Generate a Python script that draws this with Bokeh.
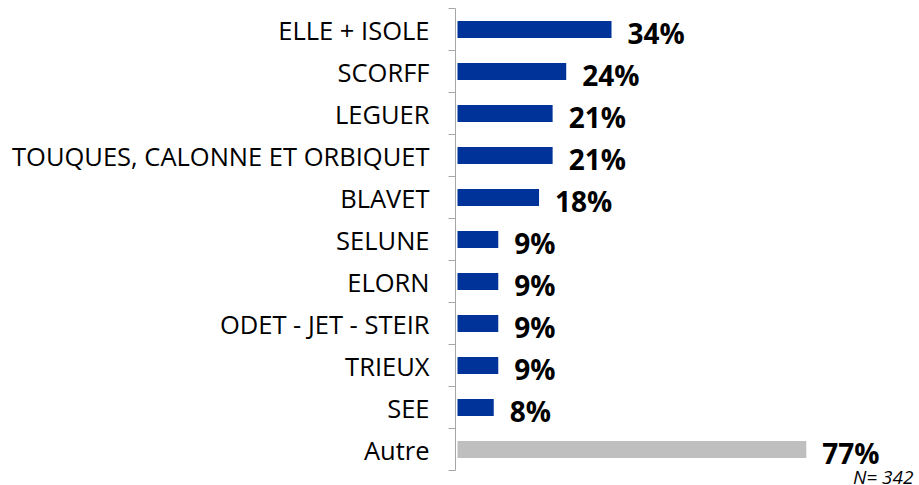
from bokeh.plotting import figure
from bokeh.models import Range1d, FixedTicker, ColumnDataSource
from bokeh.core.properties import value
from bokeh.embed import file_html
from bokeh.resources import INLINE

categories = ["ELLE + ISOLE", "SCORFF", "LEGUER", "TOUQUES, CALONNE ET ORBIQUET",
              "BLAVET", "SELUNE", "ELORN", "ODET - JET - STEIR", "TRIEUX", "SEE", "Autre"]
values = [34, 24, 21, 21, 18, 9, 9, 9, 9, 8, 77]
value_labels = ["34%", "24%", "21%", "21%", "18%", "9%", "9%", "9%", "9%", "8%", "77%"]
note = "N= 342"

BLUE = "#003399"
GREY = "#BFBFBF"
AXIS = "#A6A6A6"

W, H = 919, 485
LEFT = 455          # axis position in px
ROW = 42.0          # px per category row
TOP_PAD = 8.0       # px above first row boundary
PX_PER_PCT = 4.53
X0_PAD = 2.0        # px between axis and zero

n = len(categories)
ypos = [n - 1 - i for i in range(n)]
colors = [BLUE] * (n - 1) + [GREY]

y_top = (n - 0.5) + TOP_PAD / ROW
y_bot = y_top - H / ROW
x_start = -X0_PAD / PX_PER_PCT
x_end = x_start + (W - LEFT) / PX_PER_PCT

src = ColumnDataSource(dict(y=ypos, x=values, label=value_labels, color=colors))

p = figure(width=W, height=H,
           x_range=Range1d(x_start, x_end), y_range=Range1d(y_bot, y_top),
           output_backend="svg", toolbar_location=None, x_axis_location=None,
           min_border_left=LEFT, min_border_right=0, min_border_top=0, min_border_bottom=0)

p.hbar(y="y", left=0, right="x", height=0.4, fill_color="color", line_color=None, source=src)

p.text(x="x", y="y", text="label", source=src, x_offset=16, y_offset=3,
       text_font=value("Open Sans"), text_font_style="bold", text_font_size="28px",
       text_baseline="middle", text_align="left", text_color="black")

p.text(x=[x_end], y=[y_top - 476.0 / ROW], text=[note], x_offset=-6,
       text_font=value("Open Sans"), text_font_style="italic", text_font_size="19px",
       text_baseline="alphabetic", text_align="right", text_color="black")

ax = p.yaxis[0]
ax.ticker = FixedTicker(ticks=ypos, minor_ticks=[b - 0.5 for b in range(n + 1)])
ax.major_label_overrides = {y: c for y, c in zip(ypos, categories)}
ax.bounds = (-0.5, n - 0.5)
ax.major_tick_out = 0
ax.major_tick_in = 0
ax.minor_tick_out = 7
ax.minor_tick_in = 0
ax.axis_line_color = AXIS
ax.minor_tick_line_color = AXIS
ax.major_label_standoff = 19
ax.major_label_text_font = "Open Sans"
ax.major_label_text_font_size = "25.5px"
ax.major_label_text_color = "black"

p.xgrid.visible = False
p.ygrid.visible = False
p.outline_line_color = None
p.background_fill_color = "white"

open("out.html", "w").write(file_html(p, INLINE))
